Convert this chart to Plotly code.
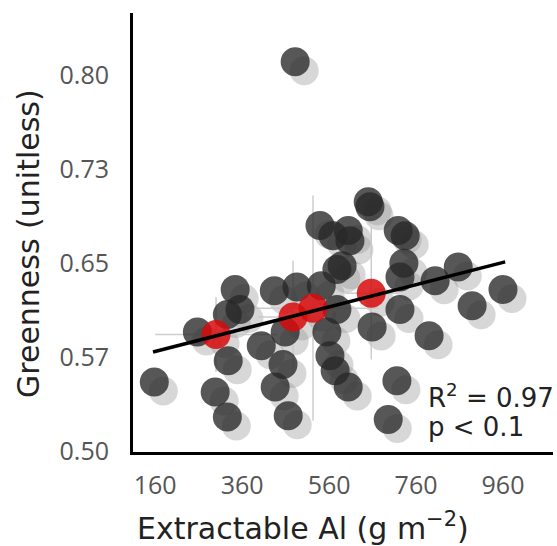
import plotly.graph_objects as go

# ---------------- data ----------------
gray_x = [482, 158, 257, 344, 326, 355, 328, 298, 326, 404,
          434, 486, 542, 459, 454, 436, 466, 539, 569, 604,
          608, 650, 654, 578, 590, 578, 555, 562, 574, 604,
          659, 719, 735, 732, 723, 723, 804, 857, 960, 889,
          790, 716, 696]
gray_y = [0.811, 0.555, 0.595, 0.629, 0.609, 0.613, 0.572, 0.547, 0.527, 0.584,
          0.628, 0.631, 0.632, 0.595, 0.569, 0.551, 0.528, 0.680, 0.672, 0.676,
          0.668, 0.699, 0.695, 0.645, 0.648, 0.613, 0.595, 0.576, 0.564, 0.551,
          0.599, 0.676, 0.672, 0.650, 0.639, 0.613, 0.636, 0.647, 0.629, 0.616,
          0.592, 0.556, 0.525]

red_x = [300, 477, 523, 657]
red_y = [0.593, 0.607, 0.614, 0.626]
red_ex = [140, 80, 150, 60]
red_ey = [0.030, 0.045, 0.090, 0.053]

fit_x = [155, 965]
fit_y = [0.579, 0.651]

x_ticks = [160, 360, 560, 760, 960]
y_ticks = [0.5, 0.575, 0.65, 0.725, 0.8]
y_ticktext = ["0.50", "0.57", "0.65", "0.73", "0.80"]

# ---------------- layout constants ----------------
W, H = 557, 546
ML, MR, MT, MB = 133, 4, 13, 94
XR = [109, 1075]
YR = [0.499, 0.85]
pw = W - ML - MR
ph = H - MT - MB
SHADOW_PX = 9
dx = SHADOW_PX * (XR[1] - XR[0]) / pw
dy = SHADOW_PX * (YR[1] - YR[0]) / ph

TICK_FONT = "Open Sans"
TITLE_FONT = "DejaVu Sans"
MS = 29


def px_x(p):
    return (p - ML) / pw


def px_y(p):
    return (H - MB - p) / ph


all_x = gray_x + red_x
all_y = gray_y + red_y

fig = go.Figure()

# shadows
fig.add_trace(go.Scatter(
    x=[v + dx for v in all_x], y=[v - dy for v in all_y], mode="markers",
    marker=dict(size=MS, color="rgba(150,150,150,0.38)", line=dict(width=0)),
    hoverinfo="skip", showlegend=False))

# error bars (behind points)
fig.add_trace(go.Scatter(
    x=red_x, y=red_y, mode="markers",
    marker=dict(size=1, color="rgba(0,0,0,0)"),
    error_x=dict(type="data", array=red_ex, color="rgba(200,200,200,0.9)", thickness=1.5, width=0),
    error_y=dict(type="data", array=red_ey, color="rgba(200,200,200,0.9)", thickness=1.5, width=0),
    hoverinfo="skip", showlegend=False))

# gray points
fig.add_trace(go.Scatter(
    x=gray_x, y=gray_y, mode="markers",
    marker=dict(size=MS, color="rgba(40,40,40,0.78)", line=dict(width=0)),
    showlegend=False))

# red points
fig.add_trace(go.Scatter(
    x=red_x, y=red_y, mode="markers",
    marker=dict(size=MS, color="rgba(215,10,10,0.85)", line=dict(width=0)),
    showlegend=False))

# regression line
fig.add_trace(go.Scatter(
    x=fit_x, y=fit_y, mode="lines",
    line=dict(color="black", width=3.5), showlegend=False))

fig.update_layout(
    width=W, height=H,
    margin=dict(l=ML, r=MR, t=MT, b=MB, pad=0),
    paper_bgcolor="white", plot_bgcolor="white",
    font=dict(family=TITLE_FONT, color="#222"),
    xaxis=dict(range=XR, tickvals=x_ticks, showgrid=False, zeroline=False,
               showline=True, linecolor="black", linewidth=3,
               ticks="outside", ticklen=9, tickcolor="rgba(0,0,0,0)",
               tickfont=dict(family=TICK_FONT, size=25, color="#555")),
    yaxis=dict(range=YR, tickvals=y_ticks, ticktext=y_ticktext, showgrid=False, zeroline=False,
               showline=True, linecolor="black", linewidth=3,
               ticks="outside", ticklen=16, tickcolor="rgba(0,0,0,0)",
               tickfont=dict(family=TICK_FONT, size=25, color="#555")),
    annotations=[
        dict(text="Extractable Al (g m<sup>\u22122</sup>)", xref="paper", yref="paper",
             x=px_x(135), y=px_y(526), xanchor="left", yanchor="middle",
             showarrow=False, font=dict(family=TITLE_FONT, size=30, color="#222")),
        dict(text="Greenness (unitless)", xref="paper", yref="paper", textangle=-90,
             x=px_x(28), y=px_y(244), xanchor="center", yanchor="middle",
             showarrow=False, font=dict(family=TITLE_FONT, size=30, color="#222")),
        dict(text="R<sup>2</sup> = 0.97", xref="paper", yref="paper",
             x=px_x(426), y=px_y(396), xanchor="left", yanchor="middle",
             showarrow=False, font=dict(family=TITLE_FONT, size=26, color="#222")),
        dict(text="p < 0.1", xref="paper", yref="paper",
             x=px_x(426), y=px_y(427), xanchor="left", yanchor="middle",
             showarrow=False, font=dict(family=TITLE_FONT, size=26, color="#222")),
    ],
)

fig.write_html("out.html", config={"displayModeBar": False},
               post_script="document.body.style.margin='0px';")
